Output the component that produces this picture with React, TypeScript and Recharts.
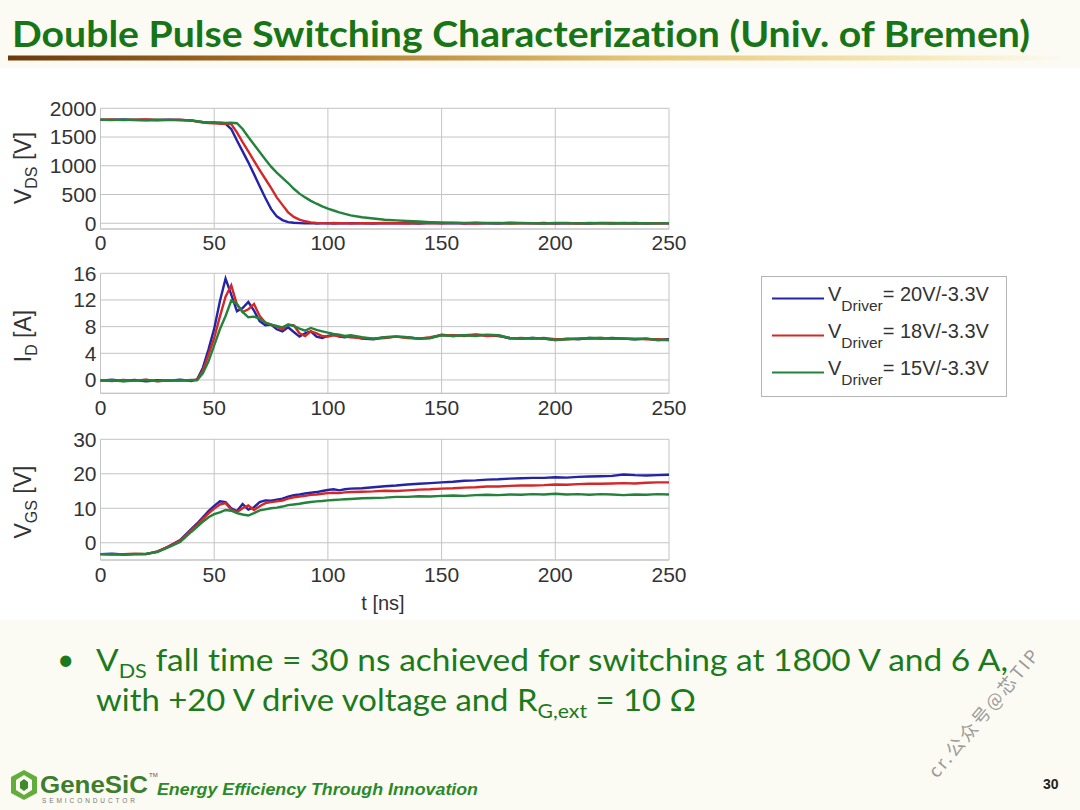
import { CartesianGrid, Line, LineChart, XAxis, YAxis } from "recharts";

const time = [
  0, 5, 10, 15, 20, 25, 30, 35, 40,
  42.5, 45, 47.5, 50, 52.5, 55, 57.5, 60, 62.5, 65, 67.5, 70, 72.5, 75, 77.5, 80, 82.5, 85, 87.5, 90, 92.5, 95, 97.5, 100, 102.5, 105, 107.5, 110,
  115, 120, 125, 130, 135, 140, 145, 150, 155, 160, 165, 170, 175, 180, 185, 190, 195, 200, 205, 210, 215, 220, 225, 230, 235, 240, 245, 250
];
const xTicks = [0, 50, 100, 150, 200, 250];

const vdsBlue = [
  1802, 1798, 1805, 1796, 1801, 1794, 1803, 1797, 1790,
  1772, 1760, 1748, 1752, 1738, 1730, 1640, 1440, 1250, 1060, 855, 645, 440, 250, 120, 55, 20, 8, 3, -2, 2, -4, 0, 3, -3, 1, -2, 2,
  0, -5, 3, -2, 4, -3, 6, -1, 2, -4, 5, 0, -3, 8, 2, -2, 4, -6, 3, 1, -4, 6, 0, -2, 5, -3, 2, 0
];
const vdsRed = [
  1798, 1804, 1795, 1800, 1806, 1797, 1799, 1803, 1785,
  1768, 1752, 1745, 1740, 1735, 1732, 1725, 1580, 1410, 1250, 1085, 925, 770, 615, 450, 320, 190, 110, 62, 34, 16, 7, 3, -2, 4, -1, 3, -3,
  2, -1, 5, 0, -4, 3, 1, -2, 6, 0, -3, 4, 2, -5, 1, 3, -2, 0, 5, -3, 2, -1, 4, 0, -4, 3, 1, -2
];
const vdsGreen = [
  1800, 1796, 1803, 1799, 1793, 1802, 1797, 1794, 1788,
  1775, 1762, 1755, 1748, 1752, 1745, 1748, 1740, 1640, 1500, 1370, 1240, 1110, 985, 880, 790, 700, 600, 515, 450, 390, 340, 295, 255, 222, 190, 162, 138,
  105, 82, 62, 50, 40, 30, 20, 14, 10, 6, 8, 3, 6, 0, 5, 2, -3, 7, 3, -2, 4, 1, -3, 5, 0, 3, -2, 2
];

const idBlue = [
  -0.1, 0.05, -0.15, 0, -0.2, -0.05, -0.1, 0.05, -0.15,
  0.1, 1.8, 4.6, 7.7, 11.8, 15.2, 12.8, 10.3, 10.8, 11.7, 10.4, 8.8, 8.2, 8.3, 7.6, 7.3, 7.9, 7.2, 6.5, 7, 7.3, 6.5, 6.3, 6.6, 6.8, 6.5, 6.4, 6.6,
  6.2, 6.1, 6.4, 6.5, 6.4, 6.2, 6.3, 6.8, 6.6, 6.7, 6.8, 6.7, 6.6, 6.3, 6.2, 6.3, 6.2, 6.0, 6.2, 6.1, 6.3, 6.2, 6.3, 6.2, 6.1, 6.2, 6.0, 6.1
];
const idRed = [
  -0.05, -0.15, 0, -0.1, 0.05, -0.2, -0.05, -0.1, 0,
  0, 1.4, 3.8, 6.3, 9.5, 12.5, 14.2, 11.3, 10.2, 10.6, 11.4, 9.6, 8.6, 8.3, 8, 7.6, 8.3, 8.2, 7, 6.6, 7.3, 7, 6.6, 6.5, 6.7, 6.6, 6.5, 6.4,
  6.3, 6.2, 6.3, 6.5, 6.3, 6.2, 6.4, 6.7, 6.7, 6.6, 6.8, 6.6, 6.7, 6.2, 6.3, 6.2, 6.3, 6.1, 6.1, 6.2, 6.2, 6.3, 6.2, 6.2, 6.2, 6.1, 6.1, 6.0
];
const idGreen = [
  -0.1, -0.05, -0.2, -0.1, 0, -0.15, -0.05, -0.1, -0.05,
  0, 1, 2.8, 5.2, 7.6, 9.6, 11.9, 11.4, 10.2, 9.4, 9.5, 9.2, 8.6, 8.3, 8.1, 7.9, 8.3, 8.1, 7.7, 7.4, 7.8, 7.5, 7.3, 7.1, 6.9, 6.8, 6.6, 6.7,
  6.4, 6.2, 6.4, 6.5, 6.4, 6.2, 6.3, 6.7, 6.6, 6.7, 6.6, 6.8, 6.7, 6.3, 6.2, 6.3, 6.2, 6.0, 6.1, 6.2, 6.3, 6.3, 6.2, 6.2, 6.1, 6.2, 6.0, 6.0
];

const vgsBlue = [
  -3.3, -3.2, -3.4, -3.3, -3.3, -2.6, -1.0, 0.8, 4.0,
  5.6, 7.4, 9.2, 10.7, 12.0, 11.8, 10.0, 9.2, 11.2, 9.6, 10.3, 11.8, 12.3, 12.2, 12.5, 12.8, 13.4, 13.8, 14.0, 14.3, 14.5, 14.7, 15.0, 15.3, 15.5, 15.2, 15.5, 15.7,
  15.8, 16.1, 16.4, 16.6, 16.9, 17.1, 17.3, 17.5, 17.7, 18.0, 18.1, 18.3, 18.4, 18.6, 18.7, 18.8, 18.8, 19.0, 18.9, 19.1, 19.2, 19.3, 19.4, 19.8, 19.6, 19.5, 19.6, 19.7
];
const vgsRed = [
  -3.3, -3.4, -3.3, -3.2, -3.3, -2.5, -1.1, 0.6, 3.7,
  5.2, 6.9, 8.5, 9.9, 11.1, 11.5, 9.6, 8.9, 10.0, 10.8, 9.5, 10.6, 11.5, 11.8, 12.0, 12.2, 12.8, 13.2, 13.4, 13.6, 13.9, 14.0, 14.2, 14.4, 14.5, 14.4, 14.6, 14.7,
  14.8, 14.9, 15.1, 15.0, 15.2, 15.4, 15.5, 15.7, 15.8, 16.0, 16.1, 16.3, 16.3, 16.5, 16.6, 16.6, 16.7, 16.9, 16.8, 17.0, 17.1, 17.1, 17.2, 17.3, 17.2, 17.4, 17.5, 17.5
];
const vgsGreen = [
  -3.3, -3.3, -3.4, -3.3, -3.2, -2.7, -1.3, 0.2, 3.2,
  4.6, 6.1, 7.4, 8.3, 8.8, 9.5, 9.3, 8.6, 8.2, 7.9, 8.6, 9.4, 9.7, 10.0, 10.2, 10.5, 10.9, 11.1, 11.3, 11.6, 11.8, 12.0, 12.1, 12.3, 12.4, 12.5, 12.6, 12.7,
  12.9, 13.0, 13.1, 13.3, 13.3, 13.5, 13.4, 13.6, 13.7, 13.6, 13.8, 13.9, 13.8, 14.0, 13.9, 14.1, 14.0, 14.2, 14.0, 14.1, 13.9, 14.1, 14.0, 13.8, 14.0, 13.9, 14.1, 14.0
];

const series = [
  { key: "b", label: "= 20V/-3.3V", color: "#2424a6" },
  { key: "r", label: "= 18V/-3.3V", color: "#d42828" },
  { key: "g", label: "= 15V/-3.3V", color: "#23833a" }
];

const vdsData = time.map((t, i) => ({ t, b: vdsBlue[i], r: vdsRed[i], g: vdsGreen[i] }));
const idData = time.map((t, i) => ({ t, b: idBlue[i], r: idRed[i], g: idGreen[i] }));
const vgsData = time.map((t, i) => ({ t, b: vgsBlue[i], r: vgsRed[i], g: vgsGreen[i] }));

const axisFont = "'Liberation Sans', Arial, sans-serif";
const slideFont = "Lato, 'Open Sans', sans-serif";
const green = "#1b7a1b";
const noLig = { fontVariantLigatures: "none" } as const;

function Panel({ top, height, plotTop, plotBottom, domain, ticks, data, tickGap }) {
  const xAxisH = 30;
  return (
    <div style={{ position: "absolute", left: 0, top }}>
      <LineChart
        width={700}
        height={height}
        data={data}
        margin={{ top: plotTop - top, right: 31, bottom: height - (plotBottom - top) - xAxisH, left: 0.5 }}
      >
        <CartesianGrid stroke="#c4c4c4" />
        <XAxis
          dataKey="t"
          type="number"
          domain={[0, 250]}
          ticks={xTicks}
          interval={0}
          height={xAxisH}
          tickLine={false}
          tickSize={0}
          tickMargin={tickGap}
          axisLine={{ stroke: "#c4c4c4" }}
          tick={{ fontSize: 21, fill: "#333", fontFamily: axisFont }}
        />
        <YAxis
          type="number"
          domain={domain}
          ticks={ticks}
          interval={0}
          width={100}
          tickLine={false}
          tickSize={0}
          tickMargin={4}
          axisLine={false}
          allowDataOverflow
          tick={{ fontSize: 21, fill: "#333", fontFamily: axisFont }}
        />
        {series.map((s) => (
          <Line
            key={s.key}
            dataKey={s.key}
            type="linear"
            stroke={s.color}
            strokeWidth={2.4}
            dot={false}
            isAnimationActive={false}
          />
        ))}
      </LineChart>
    </div>
  );
}

function LegendBox() {
  return (
    <div style={{ position: "absolute", left: 761, top: 276, width: 244, height: 119, border: "1px solid #b4b4b4", background: "#fff" }}>
      <svg width={244} height={119} style={{ display: "block" }}>
        {series.map((s, i) => (
          <g key={s.key}>
            <line x1={10} x2={62} y1={21.5 + i * 37} y2={21.5 + i * 37} stroke={s.color} strokeWidth={2} />
            <text x={66} y={24 + i * 37} fontFamily={axisFont} fontSize={20} fill="#333">
              V
              <tspan dy={10} fontSize={15.5}>Driver</tspan>
              <tspan dy={-10}>{s.label}</tspan>
            </text>
          </g>
        ))}
      </svg>
    </div>
  );
}

function AxisLabel({ x, y, main, sub, unit }) {
  return (
    <text transform={`translate(${x},${y}) rotate(-90)`} textAnchor="middle" fontFamily={axisFont} fontSize={23} fill="#333">
      {main}
      <tspan dy={6} fontSize={16}>{sub}</tspan>
      <tspan dy={-6}>{` [${unit}]`}</tspan>
    </text>
  );
}

export default function App() {
  return (
    <div style={{ position: "absolute", left: 0, top: 0, width: 1080, height: 810, overflow: "hidden", background: "#fcfbf3" }}>
      <svg width={1080} height={810} style={{ position: "absolute", left: 0, top: 0 }}>
        <defs>
          <linearGradient id="goldBar" x1="0" x2="1" y1="0" y2="0">
            <stop offset="0" stopColor="#6b3a0c" />
            <stop offset="0.3" stopColor="#b27a2a" />
            <stop offset="0.6" stopColor="#e7c77a" />
            <stop offset="0.85" stopColor="#f6e8b8" />
            <stop offset="1" stopColor="#fcfbf3" />
          </linearGradient>
        </defs>
        <rect x={0} y={68} width={1080} height={552} fill="#ffffff" />
        <text x={12} y={47} style={noLig} fontFamily={slideFont} fontWeight={700} fontSize={37} fill="#177517" textLength={1018} lengthAdjust="spacingAndGlyphs">
          Double Pulse Switching Characterization (Univ. of Bremen)
        </text>
        <rect x={8} y={55.5} width={1062} height={5} fill="url(#goldBar)" />

        <AxisLabel x={31} y={168} main="V" sub="DS" unit="V" />
        <AxisLabel x={31} y={336} main="I" sub="D" unit="A" />
        <AxisLabel x={31} y={502} main="V" sub="GS" unit="V" />
        <text x={383} y={610} textAnchor="middle" fontFamily={axisFont} fontSize={20} fill="#333">t [ns]</text>

        <text x={57} y={670} fontFamily={slideFont} fontSize={30} fill={green}>•</text>
        <text x={96} y={671} style={noLig} fontFamily={slideFont} fontSize={31} fill={green} textLength={912} lengthAdjust="spacingAndGlyphs">
          V<tspan dy={7} fontSize={20}>DS</tspan>
          <tspan dy={-7}> fall time = 30 ns achieved for switching at 1800 V and 6 A,</tspan>
        </text>
        <text x={96} y={711} style={noLig} fontFamily={slideFont} fontSize={31} fill={green} textLength={600} lengthAdjust="spacingAndGlyphs">
          with +20 V drive voltage and R<tspan dy={7} fontSize={20}>G,ext</tspan>
          <tspan dy={-7}> = 10 Ω</tspan>
        </text>

        <text transform="translate(937,779) rotate(-50)" fontFamily="'Noto Sans CJK SC', 'DejaVu Serif', serif" fontSize={18} fill="#9a9a9a" textLength={160}>
          cr.公众号@芯TIP
        </text>

        <polygon points="24,770 37,777 37,793 24,800 11,793 11,777" fill="#63ad3c" />
        <polygon points="24,775 32,780 32,790 24,795 16,790 16,780" fill="#fcfbf3" />
        <polygon points="24,779 28,782 28,788 24,791 20,788 20,782" fill="#3f8a2a" />
        <text x={40} y={793} fontFamily={axisFont} fontWeight={700} fontSize={24} fill="#3d7d2e" textLength={108} lengthAdjust="spacingAndGlyphs">GeneSiC</text>
        <text x={149} y={777} fontFamily={axisFont} fontSize={6} fill="#555">TM</text>
        <text x={42} y={803} fontFamily={axisFont} fontSize={6.5} fill="#777" textLength={93} lengthAdjust="spacing">SEMICONDUCTOR</text>
        <text x={157} y={795} fontFamily={axisFont} fontWeight={700} fontStyle="italic" fontSize={17} fill="#2a8a2a" textLength={321} lengthAdjust="spacingAndGlyphs">
          Energy Efficiency Through Innovation
        </text>
        <text x={1043} y={789} fontFamily={axisFont} fontWeight={700} fontSize={14} fill="#222">30</text>
      </svg>

      <Panel top={90} height={170} plotTop={108.3} plotBottom={229} domain={[-100, 2000]} ticks={[0, 500, 1000, 1500, 2000]} data={vdsData} tickGap={6} />
      <Panel top={255} height={175} plotTop={273.3} plotBottom={393.3} domain={[-2, 16]} ticks={[0, 4, 8, 12, 16]} data={idData} tickGap={7} />
      <Panel top={420} height={175} plotTop={439.3} plotBottom={560} domain={[-5, 30]} ticks={[0, 10, 20, 30]} data={vgsData} tickGap={7} />
      <LegendBox />
    </div>
  );
}
